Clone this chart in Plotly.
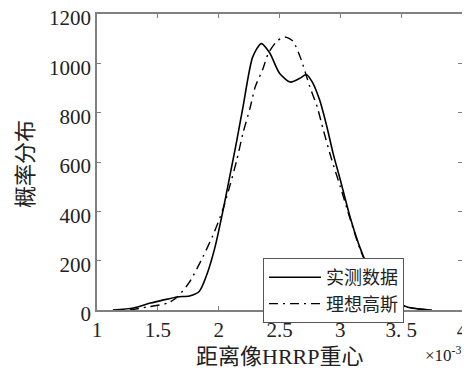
import plotly.graph_objects as go

# data (x in units of 1e-3)
measured_x = [1.13, 1.30, 1.44, 1.54, 1.66, 1.76, 1.84, 1.90, 1.97, 2.03, 2.09, 2.15, 2.20, 2.28, 2.35,
              2.42, 2.50, 2.59, 2.67, 2.72, 2.77, 2.83, 2.89, 2.94, 3.00, 3.08, 3.16, 3.25, 3.35,
              3.45, 3.55, 3.65, 3.75]
measured_y = [0, 8, 28, 40, 53, 57, 75, 140, 255, 390, 539, 690, 823, 1026, 1080,
              1042, 960, 924, 940, 955, 924, 851, 742, 636, 527, 377, 255, 150, 80,
              35, 12, 4, 0]

ideal_x = [1.27, 1.41, 1.58, 1.66, 1.76, 1.87, 1.95, 2.03, 2.09, 2.15, 2.20, 2.26, 2.30, 2.36,
           2.41, 2.48, 2.545, 2.61, 2.67, 2.75, 2.81, 2.86, 2.93, 3.00, 3.08, 3.16, 3.25,
           3.35, 3.45, 3.55, 3.65, 3.75]
ideal_y = [0, 12, 28, 53, 113, 215, 300, 400, 500, 610, 717, 823, 904, 973,
           1042, 1090, 1107, 1090, 1026, 904, 823, 730, 608, 500, 370, 250, 150,
           80, 35, 12, 4, 0]

x_tickvals = [1, 1.5, 2, 2.5, 3, 3.5, 4]
x_ticktext = ["1", "1.5", "2", "2.5", "3", "3. 5", "4"]
y_tickvals = [0, 200, 400, 600, 800, 1000, 1200]

series_names = ["实测数据", "理想高斯"]

num_font = "Liberation Serif, Times New Roman, serif"
cjk_font = "Noto Sans CJK SC, sans-serif"

# page has an 8px body margin; compensate so the plot lands where the reference has it
OFF = 8
W, H = 470 - OFF, 371 - OFF
l, r, t, b = 97 - OFF, 8, 14 - OFF, 61
pw, ph = W - l - r, H - t - b

fig = go.Figure()
fig.add_trace(go.Scatter(x=measured_x, y=measured_y, mode="lines", name=series_names[0],
                         line=dict(color="black", width=1.6, shape="spline", smoothing=0.7)))
fig.add_trace(go.Scatter(x=ideal_x, y=ideal_y, mode="lines", name=series_names[1],
                         line=dict(color="black", width=1.4, dash="9px,5px,2px,5px",
                                   shape="spline", smoothing=0.7)))

axis_common = dict(showgrid=False, zeroline=False, showline=True, linecolor="#808080", linewidth=1.5,
                   mirror="ticks", ticks="inside", ticklen=4, tickcolor="#808080", automargin=False,
                   ticklabeloverflow="allow",
                   tickfont=dict(family=num_font, size=21, color="#222"))


def px2paper(px, py):
    # px, py in window pixels
    px -= OFF
    py -= OFF
    return (px - l) / pw, (H - b - py) / ph


ann_specs = [
    ("距离像HRRP重心", 279, 356, 0, dict(family="Liberation Serif, " + cjk_font, size=22, color="#222")),
    ("×10<sup>-3</sup>", 443, 354, 0, dict(family=num_font, size=17, color="#222")),
    ("概率分布", 23, 164, -90, dict(family=cjk_font, size=22, color="#222")),
]
annotations = []
for text, px, py, ang, font in ann_specs:
    ax, ay = px2paper(px, py)
    annotations.append(dict(text=text, x=ax, y=ay, xref="paper", yref="paper", showarrow=False,
                            xanchor="center", yanchor="middle", textangle=ang, font=font))

lx, ly = px2paper(263, 258)

fig.update_layout(
    width=W, height=H,
    margin=dict(l=l, r=r, t=t, b=b, autoexpand=False),
    plot_bgcolor="white", paper_bgcolor="white",
    xaxis=dict(range=[1, 4], tickvals=x_tickvals, ticktext=x_ticktext, **axis_common),
    yaxis=dict(range=[0, 1200], tickvals=y_tickvals, ticklabelshift=4, **axis_common),
    showlegend=True,
    legend=dict(x=lx, y=ly, xanchor="left", yanchor="top",
                bgcolor="white", bordercolor="#555", borderwidth=1,
                font=dict(family=cjk_font, size=18, color="#222"),
                tracegroupgap=0, itemwidth=52),
    annotations=annotations,
)

fig.write_html("out.html")
